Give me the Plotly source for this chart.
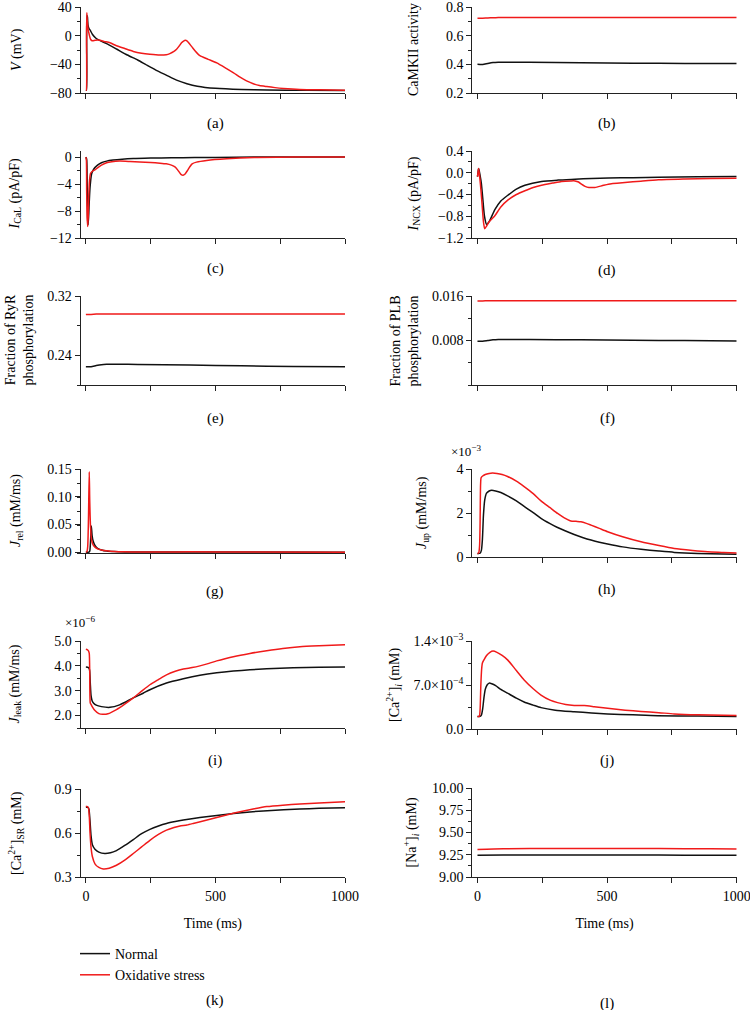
import plotly.graph_objects as go

# ---------------- data ----------------
# (a) membrane potential V (mV)
t_v_normal = [0, 2, 3, 4, 6, 8, 12, 16, 25, 40, 55, 80, 120, 160, 200, 230, 270, 310, 350, 390, 430, 500, 600, 700, 850, 1000]
v_normal = [-76, -76, -10, 28, 26, 15, 10, 8, 2, -4, -7, -11, -19, -27, -34, -40, -48, -55, -62, -67, -70.5, -73.5, -75.2, -75.8, -76.2, -76.5]
t_v_ox = [0, 1.5, 2.5, 3.5, 5, 8, 12, 18, 24, 35, 45, 55, 70, 93, 118, 150, 183, 215, 247, 286, 310, 324, 340, 350, 360, 369, 377, 384, 391, 399, 410, 421, 440, 472, 505, 543, 570, 595, 620, 646, 670, 698, 730, 762, 826, 900, 1000]
v_ox = [-76, -76, 0, 32, 22, 10, 3, -5, -7, -6.5, -6, -6.5, -8, -10, -14, -18, -22, -24.5, -26, -27, -26.5, -25, -22, -19, -14.5, -10, -7.5, -6.5, -7.5, -11, -16, -21, -28, -33, -38, -46, -52, -58, -63, -67, -69.5, -71, -72.5, -73.6, -75, -75.6, -76]

# (b) CaMKII activity
t_camk = [0, 20, 40, 60, 80, 120, 200, 400, 600, 800, 1000]
camk_normal = [0.400, 0.399, 0.406, 0.412, 0.414, 0.415, 0.414, 0.411, 0.408, 0.406, 0.405]
camk_ox = [0.722, 0.722, 0.724, 0.725, 0.726, 0.726, 0.726, 0.726, 0.726, 0.726, 0.726]

# (c) I_CaL (pA/pF)
t_ical_normal = [0, 3, 5, 7, 9, 12, 16, 22, 30, 45, 60, 80, 105, 140, 183, 250, 330, 420, 500, 650, 1000]
ical_normal = [0, -0.3, -4, -9.5, -10, -7.5, -4.5, -2.5, -1.8, -1.2, -0.85, -0.6, -0.45, -0.32, -0.22, -0.15, -0.1, -0.07, -0.05, 0, 0]
t_ical_ox = [0, 2, 3, 5, 7, 9, 11, 14, 18, 25, 35, 45, 60, 80, 100, 130, 170, 208, 250, 286, 310, 330, 345, 358, 368, 375, 383, 392, 400, 410, 427, 466, 543, 650, 750, 850, 1000]
ical_ox = [0, -0.5, -5, -9, -10.3, -9, -6, -3.5, -2.4, -2.1, -1.9, -1.6, -1.2, -0.85, -0.7, -0.6, -0.65, -0.72, -0.8, -0.9, -1.0, -1.2, -1.5, -2.1, -2.6, -2.7, -2.5, -2.0, -1.5, -1.0, -0.75, -0.5, -0.25, -0.06, -0.02, 0, 0]

# (d) I_NCX (pA/pF)
t_incx_normal = [0, 2, 4, 6, 10, 15, 20, 27, 35, 45, 67, 90, 118, 150, 183, 247, 310, 376, 440, 505, 600, 698, 850, 1000]
incx_normal = [-0.07, 0.0, 0.08, 0.05, -0.05, -0.2, -0.45, -0.8, -0.95, -0.9, -0.68, -0.52, -0.41, -0.3, -0.23, -0.16, -0.135, -0.12, -0.105, -0.095, -0.09, -0.085, -0.075, -0.07]
t_incx_ox = [0, 2, 4, 6, 9, 13, 18, 23, 28, 35, 45, 55, 67, 90, 118, 150, 183, 215, 247, 290, 324, 360, 376, 390, 401, 415, 430, 453, 480, 505, 569, 630, 698, 800, 900, 1000]
incx_ox = [-0.07, 0.0, 0.08, 0.02, -0.1, -0.3, -0.6, -0.9, -1.03, -0.98, -0.9, -0.85, -0.79, -0.63, -0.5, -0.4, -0.33, -0.27, -0.23, -0.19, -0.16, -0.15, -0.15, -0.17, -0.21, -0.25, -0.27, -0.27, -0.24, -0.21, -0.18, -0.155, -0.13, -0.115, -0.105, -0.1]

# (e) fraction of RyR phosphorylation
t_ryr = [0, 20, 40, 60, 80, 120, 200, 400, 600, 800, 1000]
ryr_normal = [0.2247, 0.2247, 0.2262, 0.2274, 0.2279, 0.2280, 0.2278, 0.2268, 0.2258, 0.2250, 0.2246]
ryr_ox = [0.2950, 0.2952, 0.2956, 0.2957, 0.2957, 0.2957, 0.2957, 0.2957, 0.2957, 0.2957, 0.2957]

# (f) fraction of PLB phosphorylation
t_plb = [0, 20, 40, 60, 80, 120, 200, 400, 600, 800, 1000]
plb_normal = [0.00787, 0.00787, 0.00800, 0.00812, 0.00818, 0.00819, 0.00818, 0.00812, 0.00805, 0.00798, 0.00790]
plb_ox = [0.01510, 0.01511, 0.01514, 0.01515, 0.01515, 0.01515, 0.01515, 0.01515, 0.01515, 0.01515, 0.01515]

# (g) J_rel (mM/ms)
t_jrel_normal = [0, 12, 15, 18, 21, 24, 28, 35, 45, 60, 80, 110, 150, 200, 300, 400, 600, 1000]
jrel_normal = [0, 0, 0.002, 0.02, 0.047, 0.03, 0.02, 0.012, 0.007, 0.004, 0.002, 0.001, 0.0005, 0.0003, 0.0002, 0.0005, 0.0001, 0]
t_jrel_ox = [0, 4, 7, 10, 13, 15, 18, 22, 28, 35, 45, 60, 80, 110, 150, 200, 300, 400, 600, 1000]
jrel_ox = [0, 0.001, 0.01, 0.06, 0.145, 0.09, 0.045, 0.022, 0.013, 0.009, 0.006, 0.004, 0.0025, 0.0012, 0.0006, 0.0003, 0.0002, 0.0006, 0.0001, 0]

# (h) J_up (mM/ms)
t_jup_normal = [0, 10, 15, 19, 23, 28, 35, 45, 55, 70, 90, 116, 150, 180, 215, 245, 280, 309, 340, 373, 405, 438, 470, 502, 560, 631, 700, 759, 850, 1000]
jup_normal = [0.15e-3, 0.17e-3, 0.3e-3, 0.8e-3, 1.9e-3, 2.6e-3, 2.9e-3, 3.0e-3, 3.03e-3, 3.0e-3, 2.93e-3, 2.78e-3, 2.55e-3, 2.3e-3, 2.02e-3, 1.76e-3, 1.52e-3, 1.34e-3, 1.18e-3, 1.02e-3, 0.89e-3, 0.77e-3, 0.67e-3, 0.59e-3, 0.46e-3, 0.35e-3, 0.27e-3, 0.21e-3, 0.16e-3, 0.12e-3]
t_jup_ox = [0, 5, 8, 10, 12, 14, 20, 30, 45, 58, 75, 95, 116, 150, 180, 215, 245, 280, 309, 335, 360, 380, 399, 420, 438, 470, 502, 560, 631, 700, 759, 830, 888, 950, 1000]
jup_ox = [0.15e-3, 0.2e-3, 0.5e-3, 1.5e-3, 3.3e-3, 3.6e-3, 3.68e-3, 3.75e-3, 3.8e-3, 3.82e-3, 3.8e-3, 3.75e-3, 3.66e-3, 3.45e-3, 3.2e-3, 2.88e-3, 2.55e-3, 2.24e-3, 1.98e-3, 1.78e-3, 1.64e-3, 1.62e-3, 1.6e-3, 1.53e-3, 1.45e-3, 1.3e-3, 1.15e-3, 0.92e-3, 0.69e-3, 0.52e-3, 0.39e-3, 0.3e-3, 0.24e-3, 0.21e-3, 0.18e-3]

# (i) J_leak (mM/ms)
t_jleak_normal = [0, 10, 14, 17, 20, 24, 30, 40, 60, 93, 130, 183, 221, 247, 311, 376, 440, 505, 569, 633, 698, 800, 900, 1000]
jleak_normal = [3.95e-6, 3.93e-6, 3.85e-6, 3.3e-6, 2.8e-6, 2.6e-6, 2.5e-6, 2.42e-6, 2.36e-6, 2.33e-6, 2.43e-6, 2.71e-6, 2.9e-6, 3.04e-6, 3.31e-6, 3.48e-6, 3.62e-6, 3.72e-6, 3.79e-6, 3.84e-6, 3.88e-6, 3.92e-6, 3.94e-6, 3.95e-6]
t_jleak_ox = [0, 5, 10, 13, 15, 17, 20, 25, 35, 50, 65, 85, 118, 150, 183, 215, 247, 280, 311, 345, 376, 410, 440, 475, 505, 537, 569, 633, 698, 760, 826, 900, 1000]
jleak_ox = [4.67e-6, 4.65e-6, 4.6e-6, 4.5e-6, 3.6e-6, 2.5e-6, 2.45e-6, 2.35e-6, 2.2e-6, 2.08e-6, 2.05e-6, 2.07e-6, 2.24e-6, 2.46e-6, 2.71e-6, 2.98e-6, 3.24e-6, 3.45e-6, 3.64e-6, 3.78e-6, 3.87e-6, 3.93e-6, 4.0e-6, 4.1e-6, 4.2e-6, 4.29e-6, 4.37e-6, 4.5e-6, 4.61e-6, 4.7e-6, 4.77e-6, 4.81e-6, 4.85e-6]

# (j) [Ca2+]i (mM)
t_cai_normal = [0, 10, 15, 20, 25, 30, 37, 45, 55, 70, 90, 116, 150, 180, 215, 245, 300, 373, 440, 502, 600, 695, 850, 1000]
cai_normal = [0.2e-3, 0.2e-3, 0.22e-3, 0.32e-3, 0.5e-3, 0.63e-3, 0.7e-3, 0.73e-3, 0.72e-3, 0.69e-3, 0.63e-3, 0.57e-3, 0.49e-3, 0.43e-3, 0.38e-3, 0.34e-3, 0.3e-3, 0.275e-3, 0.255e-3, 0.24e-3, 0.225e-3, 0.21e-3, 0.205e-3, 0.2e-3]
t_cai_ox = [0, 7, 10, 13, 16, 19, 25, 35, 48, 60, 75, 95, 116, 150, 180, 215, 245, 280, 309, 340, 373, 412, 450, 502, 570, 631, 700, 759, 850, 1000]
cai_ox = [0.2e-3, 0.2e-3, 0.3e-3, 0.7e-3, 0.95e-3, 1.05e-3, 1.1e-3, 1.17e-3, 1.22e-3, 1.24e-3, 1.22e-3, 1.17e-3, 1.1e-3, 0.93e-3, 0.78e-3, 0.64e-3, 0.54e-3, 0.46e-3, 0.42e-3, 0.39e-3, 0.375e-3, 0.372e-3, 0.355e-3, 0.33e-3, 0.3e-3, 0.28e-3, 0.26e-3, 0.24e-3, 0.225e-3, 0.215e-3]

# (k) [Ca2+]SR (mM)
t_casr_normal = [0, 8, 12, 16, 20, 25, 35, 50, 73, 95, 118, 150, 183, 215, 247, 280, 311, 345, 376, 440, 505, 570, 633, 700, 826, 900, 1000]
casr_normal = [0.775, 0.775, 0.76, 0.68, 0.58, 0.52, 0.49, 0.47, 0.46, 0.465, 0.48, 0.515, 0.555, 0.595, 0.625, 0.648, 0.665, 0.678, 0.688, 0.705, 0.72, 0.733, 0.744, 0.752, 0.763, 0.768, 0.772]
t_casr_ox = [0, 6, 10, 13, 16, 20, 25, 35, 50, 67, 90, 118, 150, 183, 215, 247, 280, 311, 340, 363, 390, 414, 460, 505, 550, 595, 650, 698, 760, 826, 900, 1000]
casr_ox = [0.78, 0.78, 0.77, 0.72, 0.6, 0.5, 0.44, 0.39, 0.365, 0.355, 0.36, 0.38, 0.415, 0.46, 0.505, 0.55, 0.59, 0.62, 0.638, 0.648, 0.655, 0.665, 0.685, 0.705, 0.726, 0.745, 0.765, 0.78, 0.79, 0.797, 0.805, 0.813]

# (l) [Na+]i (mM)
t_nai = [0, 100, 300, 500, 700, 900, 1000]
nai_normal = [9.245, 9.248, 9.248, 9.247, 9.246, 9.245, 9.245]
nai_ox = [9.31, 9.318, 9.32, 9.32, 9.319, 9.317, 9.316]

series_names = ["Normal", "Oxidative stress"]
x_tick_values = [0, 250, 500, 750, 1000]
x_tick_labels = ["0", "", "500", "", "1000"]

# ---------------- styling / layout ----------------
W, H = 750, 1010
FONT = "Liberation Serif, Times New Roman, serif"
BLACK = "#111111"
RED = "#f01a1a"
AXC = "#222222"

LEFT = (80.7, 345.0)
RIGHT = (472.3, 736.7)

panels = [
    dict(key="a", col=LEFT, y=(7, 93), rng=[-80, 40], title="<i>V</i> (mV)", tx=17,
         ytick=dict(tickvals=[-80, -40, 0, 40]), minor=20,
         data=[(t_v_normal, v_normal), (t_v_ox, v_ox)]),
    dict(key="b", col=RIGHT, y=(7, 93), rng=[0.2, 0.8], title="CaMKII activity", tx=413,
         ytick=dict(tickvals=[0.2, 0.4, 0.6, 0.8], tickformat=".1f"), minor=0.1,
         data=[(t_camk, camk_normal), (t_camk, camk_ox)]),
    dict(key="c", col=LEFT, y=(151, 238), rng=[-12, 0.9], title="<i>I</i><sub>CaL</sub> (pA/pF)", tx=15,
         ytick=dict(tickvals=[-12, -8, -4, 0]), minor=2,
         data=[(t_ical_normal, ical_normal), (t_ical_ox, ical_ox)]),
    dict(key="d", col=RIGHT, y=(151, 238), rng=[-1.2, 0.4], title="<i>I</i><sub>NCX</sub> (pA/pF)", tx=414,
         ytick=dict(tickvals=[-1.2, -0.8, -0.4, 0.0, 0.4], tickformat=".1f"), minor=0.2,
         data=[(t_incx_normal, incx_normal), (t_incx_ox, incx_ox)]),
    dict(key="e", col=LEFT, y=(296, 385), rng=[0.2, 0.32], title="Fraction of RyR<br>phosphorylation", tx=19,
         ytick=dict(tickvals=[0.24, 0.32], tickformat=".2f"), minor=0.04,
         data=[(t_ryr, ryr_normal), (t_ryr, ryr_ox)]),
    dict(key="f", col=RIGHT, y=(296, 385), rng=[0, 0.016], title="Fraction of PLB<br>phosphorylation", tx=404,
         ytick=dict(tickvals=[0.008, 0.016], tickformat=".3f"), minor=0.004,
         data=[(t_plb, plb_normal), (t_plb, plb_ox)]),
    dict(key="g", col=LEFT, y=(469, 553), rng=[-0.0015, 0.15], title="<i>J</i><sub>rel</sub> (mM/ms)", tx=16,
         ytick=dict(tickvals=[0, 0.05, 0.10, 0.15], tickformat=".2f"), minor=0.025,
         data=[(t_jrel_normal, jrel_normal), (t_jrel_ox, jrel_ox)]),
    dict(key="h", col=RIGHT, y=(469, 557), rng=[0, 4e-3], title="<i>J</i><sub>up</sub> (mM/ms)", tx=422,
         ytick=dict(tickvals=[0, 2e-3, 4e-3], ticktext=["0", "2", "4"]), minor=1e-3,
         data=[(t_jup_normal, jup_normal), (t_jup_ox, jup_ox)]),
    dict(key="i", col=LEFT, y=(641, 728), rng=[1.5e-6, 5e-6], title="<i>J</i><sub>leak</sub> (mM/ms)", tx=15,
         ytick=dict(tickvals=[2e-6, 3e-6, 4e-6, 5e-6], ticktext=["2.0", "3.0", "4.0", "5.0"]), minor=0.5e-6,
         data=[(t_jleak_normal, jleak_normal), (t_jleak_ox, jleak_ox)]),
    dict(key="j", col=RIGHT, y=(641, 729), rng=[0, 1.4e-3], title="[Ca<sup>2+</sup>]<sub><i>i</i></sub> (mM)", tx=394,
         ytick=dict(tickvals=[0, 7e-4, 1.4e-3], ticktext=["0.0", "7.0×10<sup>−4</sup>", "1.4×10<sup>−3</sup>"]), minor=3.5e-4,
         data=[(t_cai_normal, cai_normal), (t_cai_ox, cai_ox)]),
    dict(key="k", col=LEFT, y=(789, 877), rng=[0.3, 0.9], title="[Ca<sup>2+</sup>]<sub>SR</sub> (mM)", tx=16,
         ytick=dict(tickvals=[0.3, 0.6, 0.9], tickformat=".1f"), minor=0.15,
         data=[(t_casr_normal, casr_normal), (t_casr_ox, casr_ox)]),
    dict(key="l", col=RIGHT, y=(788, 877), rng=[9.0, 10.0], title="[Na<sup>+</sup>]<sub><i>i</i></sub> (mM)", tx=411,
         ytick=dict(tickvals=[9.0, 9.25, 9.5, 9.75, 10.0], tickformat=".2f"), minor=0.125,
         data=[(t_nai, nai_normal), (t_nai, nai_ox)]),
]

label_pos = {"a": 123, "b": 123, "c": 268, "d": 270, "e": 419, "f": 419,
             "g": 591, "h": 589, "i": 760, "j": 760, "k": 1000, "l": 1003}

fig = go.Figure()
layout = dict(
    width=W, height=H, margin=dict(l=0, r=0, t=0, b=0, autoexpand=False),
    paper_bgcolor="white", plot_bgcolor="white",
    font=dict(family=FONT, size=14, color="black"),
    showlegend=True,
    legend=dict(x=75 / W, y=1 - 938 / H, xanchor="left", yanchor="top",
                font=dict(family=FONT, size=14, color="black"),
                bgcolor="rgba(0,0,0,0)", tracegroupgap=0, itemwidth=30),
)
annotations = []

for i, p in enumerate(panels):
    n = i + 1
    xa = "x" if n == 1 else f"x{n}"
    ya = "y" if n == 1 else f"y{n}"
    bottom = p["key"] in ("k", "l")
    x0, x1 = p["col"]
    yt, yb = p["y"]
    for j, (tt, vv) in enumerate(p["data"]):
        fig.add_trace(go.Scatter(
            x=tt, y=vv, mode="lines", xaxis=xa, yaxis=ya,
            line=dict(color=BLACK if j == 0 else RED, width=1.5, shape="spline", smoothing=0.6),
            name=series_names[j], legendgroup=series_names[j],
            showlegend=(p["key"] == "k"), hoverinfo="skip",
        ))
    layout["xaxis" if n == 1 else f"xaxis{n}"] = dict(
        domain=[x0 / W, x1 / W], anchor=ya, range=[-20, 1000], automargin=False,
        ticklabeloverflow="allow", ticklabelstandoff=1,
        showline=True, linecolor=AXC, linewidth=1.2, mirror=False,
        showgrid=False, zeroline=False,
        ticks="outside", ticklen=5, tickwidth=1.2, tickcolor=AXC,
        tickmode="array", tickvals=x_tick_values, ticktext=x_tick_labels,
        showticklabels=bottom, tickfont=dict(family=FONT, size=14, color="black"),
        title=dict(text="Time (ms)" if bottom else "", standoff=15,
                   font=dict(family=FONT, size=14, color="black")),
    )
    yt_cfg = dict(p["ytick"])
    layout["yaxis" if n == 1 else f"yaxis{n}"] = dict(
        domain=[1 - yb / H, 1 - yt / H], anchor=xa, range=p["rng"], automargin=False,
        ticklabeloverflow="allow",
        showline=True, linecolor=AXC, linewidth=1.2,
        showgrid=False, zeroline=False,
        ticks="outside", ticklen=5, tickwidth=1.2, tickcolor=AXC,
        tickmode="array", **yt_cfg,
        tickfont=dict(family=FONT, size=14, color="black"),
        minor=dict(ticks="outside", ticklen=3, tickwidth=1.2, tickcolor=AXC,
                   dtick=p["minor"], tick0=p["rng"][0], showgrid=False),
    )
    annotations.append(dict(
        text=p["title"], x=p["tx"] / W, y=1 - (yt + yb) / 2 / H,
        xref="paper", yref="paper", xanchor="center", yanchor="middle",
        textangle=-90, showarrow=False,
        font=dict(family=FONT, size=14, color="black"),
    ))
    annotations.append(dict(
        text=f"({p['key']})", x=(x0 + 5 + x1) / 2 / W, y=1 - label_pos[p["key"]] / H,
        xref="paper", yref="paper", xanchor="center", yanchor="middle",
        showarrow=False, font=dict(family=FONT, size=15, color="black"),
    ))

annotations.append(dict(text="×10<sup>−3</sup>", x=466 / W, y=1 - 451 / H, xref="paper", yref="paper",
                        xanchor="center", yanchor="middle", showarrow=False,
                        font=dict(family=FONT, size=13, color="black")))
annotations.append(dict(text="×10<sup>−6</sup>", x=80 / W, y=1 - 622 / H, xref="paper", yref="paper",
                        xanchor="center", yanchor="middle", showarrow=False,
                        font=dict(family=FONT, size=13, color="black")))

layout["annotations"] = annotations
fig.update_layout(**layout)
fig.write_html("out.html", config={"displayModeBar": False},
               post_script="document.body.style.margin='0px';document.body.style.overflow='hidden';")
